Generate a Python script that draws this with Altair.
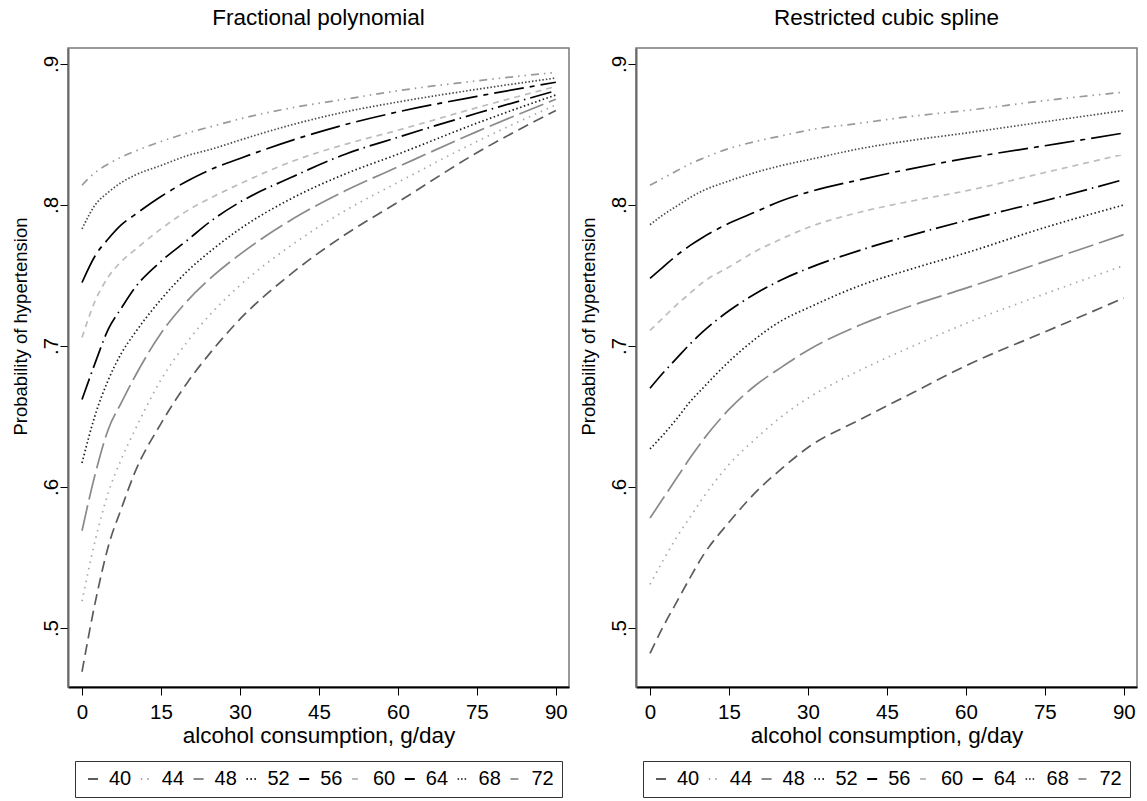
import altair as alt
import pandas as pd

ages = ["40", "44", "48", "52", "56", "60", "64", "68", "72"]
x_vals = [0, 2.5, 5, 7.5, 10, 15, 20, 25, 30, 40, 50, 60, 75, 90]

fp_72 = [0.814, 0.823, 0.829, 0.834, 0.838, 0.845, 0.851, 0.856, 0.861, 0.869, 0.875, 0.881, 0.888, 0.894]
fp_68 = [0.783, 0.800, 0.809, 0.816, 0.821, 0.828, 0.835, 0.840, 0.846, 0.857, 0.866, 0.873, 0.882, 0.890]
fp_64 = [0.745, 0.764, 0.776, 0.786, 0.793, 0.806, 0.817, 0.826, 0.833, 0.846, 0.857, 0.866, 0.877, 0.887]
fp_60 = [0.706, 0.732, 0.749, 0.760, 0.768, 0.783, 0.796, 0.806, 0.815, 0.831, 0.843, 0.853, 0.869, 0.884]
fp_56 = [0.662, 0.688, 0.712, 0.727, 0.741, 0.760, 0.775, 0.790, 0.802, 0.820, 0.836, 0.848, 0.865, 0.881]
fp_52 = [0.617, 0.651, 0.676, 0.695, 0.709, 0.733, 0.753, 0.769, 0.783, 0.805, 0.822, 0.836, 0.858, 0.878]
fp_48 = [0.569, 0.609, 0.641, 0.660, 0.678, 0.709, 0.732, 0.750, 0.765, 0.790, 0.810, 0.827, 0.852, 0.875]
fp_44 = [0.519, 0.562, 0.596, 0.620, 0.640, 0.676, 0.703, 0.725, 0.743, 0.772, 0.796, 0.816, 0.845, 0.871]
fp_40 = [0.469, 0.518, 0.558, 0.585, 0.610, 0.645, 0.674, 0.698, 0.719, 0.752, 0.779, 0.802, 0.837, 0.867]

rcs_72 = [0.814, 0.819, 0.824, 0.829, 0.833, 0.840, 0.845, 0.849, 0.853, 0.858, 0.863, 0.867, 0.874, 0.880]
rcs_68 = [0.786, 0.793, 0.799, 0.805, 0.810, 0.817, 0.823, 0.828, 0.832, 0.840, 0.846, 0.851, 0.859, 0.867]
rcs_64 = [0.748, 0.756, 0.764, 0.771, 0.777, 0.787, 0.795, 0.803, 0.809, 0.818, 0.826, 0.833, 0.842, 0.851]
rcs_60 = [0.711, 0.720, 0.729, 0.737, 0.745, 0.756, 0.767, 0.776, 0.784, 0.795, 0.803, 0.810, 0.823, 0.836]
rcs_56 = [0.670, 0.681, 0.691, 0.701, 0.710, 0.725, 0.737, 0.747, 0.755, 0.768, 0.779, 0.789, 0.803, 0.818]
rcs_52 = [0.627, 0.637, 0.648, 0.660, 0.670, 0.689, 0.705, 0.718, 0.727, 0.743, 0.755, 0.766, 0.784, 0.800]
rcs_48 = [0.578, 0.592, 0.606, 0.620, 0.633, 0.655, 0.672, 0.685, 0.697, 0.715, 0.729, 0.741, 0.760, 0.779]
rcs_44 = [0.531, 0.548, 0.564, 0.578, 0.592, 0.616, 0.634, 0.650, 0.663, 0.683, 0.700, 0.716, 0.737, 0.757]
rcs_40 = [0.482, 0.501, 0.518, 0.535, 0.551, 0.575, 0.596, 0.613, 0.628, 0.648, 0.667, 0.686, 0.710, 0.734]

fp_series = {"40": fp_40, "44": fp_44, "48": fp_48, "52": fp_52, "56": fp_56,
             "60": fp_60, "64": fp_64, "68": fp_68, "72": fp_72}
rcs_series = {"40": rcs_40, "44": rcs_44, "48": rcs_48, "52": rcs_52, "56": rcs_56,
              "60": rcs_60, "64": rcs_64, "68": rcs_68, "72": rcs_72}

x_ticks = [0, 15, 30, 45, 60, 75, 90]
y_ticks = [0.5, 0.6, 0.7, 0.8, 0.9]

line_colors = ["#5c5c5c", "#a8a8a8", "#8a8a8a", "#1e1e1e", "#000000",
               "#bdbdbd", "#000000", "#4a4a4a", "#9a9a9a"]
line_dashes = [[11, 6], [1.5, 5], [26, 6], [1.5, 2.5], [22, 5, 1.5, 5],
               [6, 5], [30, 6, 5, 6], [1.5, 2], [8, 5, 1.5, 5, 1.5, 5]]

FONT = "Liberation Sans"


def make_df(series):
    rows = []
    for age in ages:
        for xv, pv in zip(x_vals, series[age]):
            rows.append({"age": age, "x": xv, "p": pv})
    return pd.DataFrame(rows)


def panel(df, title):
    leg = alt.Legend(
        title=None, orient="none", legendX=7, legendY=713, direction="horizontal", columns=9,
        symbolType="stroke", symbolSize=100, symbolStrokeWidth=2,
        labelFontSize=20, labelFont=FONT, labelColor="#000000",
        labelOffset=6, columnPadding=3.8, strokeColor="#333333",
        padding=8, cornerRadius=0,
    )
    return alt.Chart(
        df,
        title=alt.TitleParams(title, fontSize=22.5, font=FONT, fontWeight="normal",
                              anchor="middle", offset=18.5, color="#000000"),
    ).mark_line(interpolate="monotone", strokeWidth=1.7).encode(
        x=alt.X("x:Q",
                scale=alt.Scale(domain=[-2.66, 92.5], nice=False, zero=False),
                axis=alt.Axis(values=x_ticks, title="alcohol consumption, g/day",
                              format="d", grid=False, tickSize=8, tickColor="#000000",
                              domainColor="#000000", domainWidth=2,
                              labelFontSize=20.5, labelFont=FONT, labelColor="#000000",
                              labelPadding=7, titleFontSize=22.5, titleFont=FONT,
                              titleFontWeight="normal", titleColor="#000000",
                              titlePadding=2)),
        y=alt.Y("p:Q",
                scale=alt.Scale(domain=[0.4582, 0.9113], nice=False, zero=False),
                axis=alt.Axis(values=y_ticks, title="Probability of hypertension",
                              labelExpr="replace(format(datum.value, '.1f'), '0.', '.')",
                              grid=False, tickSize=8, tickColor="#000000",
                              domainColor="#6a6a6a", domainWidth=2,
                              labelAngle=270, labelAlign="center", labelBaseline="alphabetic",
                              labelFontSize=20.5, labelFont=FONT, labelColor="#000000",
                              labelPadding=3, titleFontSize=18.5, titleFont=FONT,
                              titleFontWeight="normal", titleColor="#000000",
                              titlePadding=11, titleY=278, titleAlign="center")),
        color=alt.Color("age:N", scale=alt.Scale(domain=ages, range=line_colors), legend=leg),
        strokeDash=alt.StrokeDash("age:N", scale=alt.Scale(domain=ages, range=line_dashes), legend=leg),
        order=alt.Order("x:Q"),
    ).properties(width=501, height=639)


left = panel(make_df(fp_series), "Fractional polynomial")
right = panel(make_df(rcs_series), "Restricted cubic spline")

chart = alt.hconcat(left, right, spacing=8).resolve_scale(
    color="independent", strokeDash="independent"
).resolve_legend(
    color="independent", strokeDash="independent"
).properties(
    padding={"left": 10, "top": 6, "right": 4, "bottom": 0}, background="#ffffff"
).configure_view(stroke="#7a7a7a", strokeWidth=1.5)

chart.save("out.html", embed_options={"renderer": "svg", "actions": False})
